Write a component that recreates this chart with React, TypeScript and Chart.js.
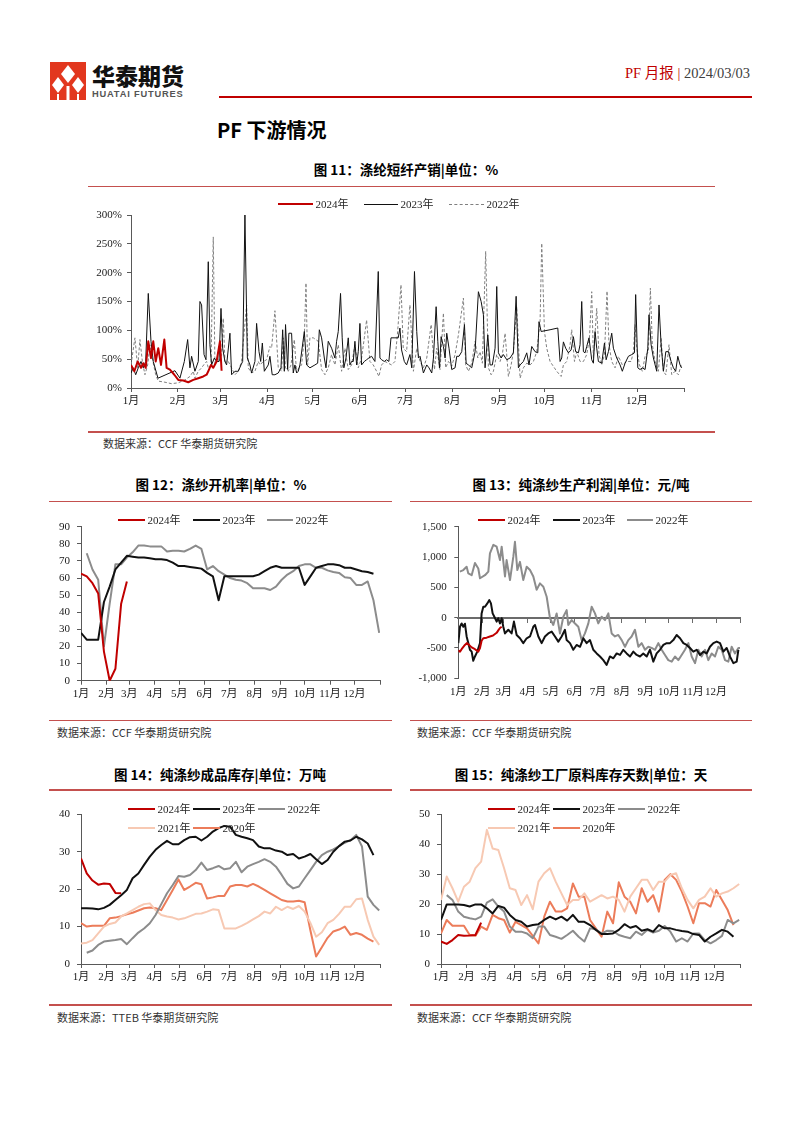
import React, { useEffect, useRef } from 'react';
import { Chart, registerables } from 'chart.js';

Chart.register(...registerables);

const SERIF = '"Liberation Serif", "Times New Roman", "Noto Sans CJK SC", serif';
const CJK = '"Noto Sans CJK SC", "Noto Sans", sans-serif';
const RED = '#C00000';
const BLACK = '#111111';
const GREY = '#8C8C8C';
const GREY_D = '#7F7F7F';
const PINK = '#F7C9B3';
const ORANGE = '#EC7C5A';
const AXIS = '#595959';
const RULE = '#C4504E';

const MONTH_DAYS = [0, 31, 59, 90, 120, 151, 181, 212, 243, 273, 304, 334, 365];
const MONTH_LABELS = ['1月', '2月', '3月', '4月', '5月', '6月', '7月', '8月', '9月', '10月', '11月', '12月', ''];
const SALES_TICKS = [0, 50, 100, 150, 200, 250, 300];

// ---------- 图11 涤纶短纤产销 (day of year, %) ----------
const SALES_2024: [number, number][] = [[0,40],[2.2,29],[4.4,46],[6.6,35],[8.1,43],[9.7,35],[11.4,81],[13.2,52],[14.7,81],[16.3,46],[18,69],[19.8,40],[22,84],[23.5,35],[25.7,32],[28.6,23],[31.2,14],[34.5,13],[37.8,10],[41.1,14],[44.4,17],[47.7,20],[49.9,23],[51,29],[52.8,40],[54.3,35],[56.5,46],[58.7,81],[59.8,30]];

const SALES_2023: [number, number][] = [[0,26],[1.5,35],[3.1,23],[4.8,35],[6.6,46],[8.1,35],[9.7,46],[11.4,164],[13.2,81],[14.7,46],[17.8,17],[29,30],[32.3,17],[35.2,46],[37.4,84],[38.9,35],[40,55],[42.2,29],[44.4,46],[45.5,150],[46.6,144],[48.2,58],[49.5,49],[51,219],[52.1,75],[53.2,40],[55,52],[56.5,46],[58.1,46],[59.4,138],[60.5,69],[62,46],[63.1,40],[65.3,95],[66.4,23],[68.6,29],[70.8,29],[72.6,40],[73.7,46],[75.2,300],[76.8,52],[78.5,40],[79.6,26],[81.8,46],[82.9,112],[84.5,63],[85.6,46],[86.7,78],[88,29],
[90.6,40],[91.7,55],[93.2,23],[95,23],[97.2,26],[99,35],[100.1,101],[101.2,29],[102,110],[103.4,32],[104.2,95],[106,95],[107.1,26],[108.2,40],[109.3,26],[110.4,29],[111.5,40],[114.4,98],[115.9,40],[118.1,35],[121.4,40],[123.2,43],[124.3,101],[125.8,87],[127.6,52],[128.7,35],[130.2,81],[132.4,69],[134.6,52],[135.7,81],[136.8,98],[138.3,164],[139.4,87],[140.5,35],[141.9,52],[143.4,87],[144.5,40],[145.6,46],[146.7,46],[147.8,81],[148.9,40],[150,63],[151.1,112],[152.2,40],[154,46],[155.5,49],[157,52],[158.8,55],[161,46],[163.2,202],[164.3,52],[165.4,49],[167.2,46],[168.7,49],[170.2,46],[171.6,87],[174.2,87],[176.4,87],[177.5,104],[178.6,66],[180.4,46],[181.9,40],[184.1,58],
[185.3,35],[187.1,202],[188.6,98],[189.7,52],[190.8,55],[193,26],[195.2,40],[196.7,35],[198.5,26],[199.6,52],[201.4,141],[202.5,81],[203.6,35],[204.7,89],[206.2,72],[207.3,52],[208.4,95],[209.9,69],[211.7,32],[213.9,35],[215,55],[216.5,55],[218.3,63],[220.1,110],[221.2,43],[222.7,40],[224.9,35],[227.1,63],[229.3,167],[231.1,150],[232.6,127],[233.7,35],[235.5,92],[237,40],[238.5,40],[240.3,69],[241.4,176],[242.5,61],[244.3,52],[245.8,58],[248,49],[250.2,52],[252.4,61],[254.2,159],[255.7,35],[256.8,40],[259,46],[261.2,61],[262.7,40],[264.5,72],[266.7,63],[268.5,61],[269.3,115],[270.7,98],[276.6,101],
[281.7,104],[283.2,46],[284.3,52],[285.4,80],[286.9,69],[288.7,61],[290.5,66],[292,89],[293.5,63],[295.3,61],[296.4,75],[297.5,150],[298.6,63],[299.7,61],[300.8,72],[302.3,87],[304.1,49],[305.2,43],[306.3,98],[307.4,69],[308.5,46],[310.7,43],[312.5,78],[313.6,49],[315.1,63],[317.3,95],[318.4,69],[320.6,52],[322.8,40],[324.3,29],[326.1,43],[328.3,55],[330.5,58],[332.3,61],[333.1,162],[334.5,35],[336,32],[337.5,35],[339.3,32],[341.1,69],[341.9,127],[343.3,75],[344.8,52],[347,29],[348.5,144],[349.9,75],[351.4,29],[353,63],[354.7,63],[356.5,46],[358,35],[359.5,29],[360.9,55],[362.4,40],[363.5,35]];

const SALES_2022: [number, number][] = [[0,40],[2.6,87],[4.4,35],[5.9,84],[7.5,46],[9.2,23],[11,40],[12.5,75],[14.7,43],[16.3,23],[18,12],[22.4,10],[26.8,7.5],[31.2,9],[35.6,14],[38.9,20],[41.1,29],[42.2,17],[44.4,29],[46.6,35],[48.8,43],[49.9,46],[51,35],[52.8,40],[54.3,262],[55.4,40],[56.5,52],[58.1,46],[59.8,58],[60.9,121],[62,46],[64.2,46],[66.4,35],[68.6,23],[70.8,29],[73,46],[76.3,144],[77.4,35],[79.6,26],[81.8,29],[84,46],[85.1,40],[87.3,46],[89.5,49],[91.7,72],
[92.8,69],[95,134],[97.2,35],[99.4,29],[100.5,87],[102,35],[103.8,29],[105.6,40],[107.8,84],[109.3,26],[110.8,35],[112.6,40],[114.4,87],[115.5,182],[116.6,40],[118.1,87],[120.3,87],[123.6,81],[125.8,32],[128,23],[130.2,35],[132.4,58],[134.6,40],[136.8,75],[139,29],[141.2,69],[143.4,32],[145.6,40],[147.8,75],[150,35],[152.2,52],[154,87],[155.5,118],[157.7,46],[159.9,40],[162.1,29],[163.6,20],[165.4,40],[167.6,46],[169.8,43],[172,40],[174.2,46],[176,98],[178.2,179],[179.7,69],[181.9,63],[184.1,144],
[186.4,29],[188.6,69],[190.8,46],[193,35],[195.2,52],[198.1,110],[200.3,32],[201.8,69],[204,32],[206.2,130],[207.7,35],[209.5,46],[211.7,38],[213.9,58],[216.1,92],[219.4,156],[220.9,40],[222.7,29],[224.9,43],[227.1,81],[228.9,52],[230.4,63],[231.9,43],[234.1,237],[235.9,35],[237.7,23],[239.2,29],[241.4,58],[243.6,46],[245.1,58],[246.9,95],[249.1,20],[250.9,40],[252.4,63],[254.6,141],[256.8,17],[259,35],[261.2,43],[263.4,40],[265.6,46],[267.8,63],[270,115],[271.1,251],[272.9,98],[274.4,69],[276.6,46],
[281,29],[283.9,20],[285.4,40],[287.6,46],[289.8,75],[290.9,101],[292.7,46],[294.2,63],[296.4,46],[298.6,46],[300.8,58],[302.6,87],[304.1,167],[305.2,52],[307.4,138],[308.9,58],[310.7,40],[312.5,58],[314.2,168],[315.5,75],[317.3,46],[319.5,35],[321.7,55],[324.3,40],[327.2,46],[330.1,46],[331.6,63],[332.7,110],[333.8,69],[335.6,40],[337.5,29],[339.3,55],[341.5,63],[342.8,173],[344.1,75],[345.9,46],[348.1,29],[349.9,87],[351.4,29],[353,23],[355.1,75],[356.9,23],[359.1,29],[361.3,23],[363.1,40]];

// ---------- 图12 涤纱开机率 (weekly, %) ----------
const OPR_2024 = [62.5, 61, 57, 51, 17, 0, 7, 45, 58];
const OPR_2023 = [28,24,24,24,46,55,65,69,73,72.5,72,72,71.5,71,71,70.5,69,67,67,66.5,66,65.5,63,61,47,61,61,61,61,61,61,62,64,66,67,66,66,66,66,56,61,66,67,68,68,67.5,66,66,65,64,63.5,62.5];
const OPR_2022 = [null,74.5,65,59,20,45,68,68,72,75,79,79,78.5,78.5,78.5,75.5,76,76,75.5,77,79,77,65,67,64,62,60,59,58.5,57,54,54,54,53,55,59,62,64,67,68,68,66,66,64.5,63.5,63,60.5,60,56,56,58,47,28];

// ---------- 图13 纯涤纱生产利润 (day of year, 元/吨) ----------
const PROFIT_2024: [number, number][] = [[0,-540],[2.2,-560],[4.3,-520],[8.6,-450],[11,-420],[13,-440],[17.3,-490],[21.6,-520],[25.9,-560],[28.1,-500],[30.2,-380],[32.4,-340],[36.7,-330],[41,-310],[45,-295],[49.7,-250],[51.8,-210],[54,-170],[56.2,-150]];
const PROFIT_2023: [number, number][] = [[0,-420],[2.2,-150],[4.3,-95],[6.5,-150],[8.6,-100],[10.8,-310],[13,-420],[15.1,-530],[17.3,-560],[19.4,-710],[21.6,-640],[24.6,-560],[28.1,-420],[30.2,70],[32.4,180],[34.6,180],[37.6,235],[40.2,290],[42.3,235],[44.5,70],[46.7,15],[49.7,-65],[51.8,-10],[54,-95],[56.2,-10],[58.3,-150],[60.5,-260],[64.8,-200],[69.1,-260],[72.1,-65],[75.6,-285],[79.9,-340],[84.2,-420],[88.6,-340],[92.9,-310],[97.2,-150],[99.4,-120],[103.7,-310],[108,-420],[112.3,-310],[116.6,-260],[121,-230],[125.3,-310],[129.6,-395],[133.9,-310],[138.2,-200],[140.4,-370],[144.7,-420],[149,-530],[153.3,-450],[157.7,-480],[162,-340],[166.3,-420],[170.6,-370],[174.9,-530],[179.3,-590],[183.6,-640],[187.9,-700],[192.2,-780],[196.5,-640],[200.9,-670],[205.2,-590],[209.5,-615],[213.8,-530],[218.1,-590],[222.5,-640],[226.8,-560],[231.1,-615],[235.4,-640],[239.7,-590],[244.1,-640],[248.4,-530],[252.7,-725],[257,-590],[261.3,-530],[265.7,-450],[270,-420],[274.3,-420],[278.6,-370],[282.9,-285],[287.3,-340],[291.6,-420],[295.9,-450],[300.2,-500],[304.5,-560],[308.9,-530],[313.2,-615],[317.5,-560],[321.8,-590],[326.1,-480],[330.5,-420],[334.8,-395],[339.1,-420],[343.4,-560],[347.7,-500],[352,-640],[356.4,-750],[360.7,-725],[362.9,-530]];
const PROFIT_2022: [number, number][] = [[2,760],[6.5,785],[10.8,840],[13,730],[17.3,700],[21.6,900],[25.9,810],[28.1,650],[34.6,700],[38.9,760],[41,1060],[45.4,1200],[49.7,1170],[54,950],[56.2,1170],[60.5,680],[62.6,950],[67,620],[71.3,1005],[73.4,1250],[76.5,785],[79.9,920],[84.2,620],[88.6,840],[92.9,785],[97.2,680],[101.5,460],[105.8,565],[110.2,510],[114.5,345],[118.8,-10],[123.1,-120],[127.4,70],[131.7,-260],[136.1,15],[140.4,125],[142.5,-120],[146.9,-40],[151.2,-95],[155.5,-150],[159.8,-370],[164.1,-260],[168.5,-95],[172.8,180],[177.1,70],[181.4,-95],[185.7,15],[190.1,-40],[194.4,70],[198.7,-260],[203,-310],[207.3,-285],[211.7,-370],[216,-480],[220.3,-370],[224.6,-310],[228.9,-200],[233.3,-480],[237.6,-420],[241.9,-530],[246.2,-480],[250.5,-500],[254.9,-530],[259.2,-420],[263.5,-530],[267.8,-615],[272.1,-700],[276.5,-725],[280.8,-640],[285.1,-700],[289.4,-615],[293.7,-530],[298.1,-420],[302.4,-640],[306.7,-750],[311,-530],[315.3,-640],[319.7,-530],[324,-700],[328.3,-590],[332.6,-640],[336.9,-480],[341.3,-530],[345.6,-700],[349.9,-725],[354.2,-480],[358.5,-590],[362.9,-500],[365,-500]];

// ---------- 图14 纯涤纱成品库存 (weekly, 万吨) ----------
const INV_2024 = [28.2, 24.2, 22.3, 21.2, 21.5, 21.4, 19, 18.9];
const INV_2023 = [14.9,14.9,14.8,14.6,15,15.8,17.1,18.4,19.8,22.9,24.2,26.5,28.7,30.5,31.8,32.9,32,32,33.1,33.9,34,33,34,35.4,36.3,36.9,36.7,34.5,34,33.6,33.1,31.4,30.9,30.9,30.3,30,29.1,29.4,28.2,28.7,29.4,28,26.7,27.8,30,31.5,32.7,33,34,33.3,32.2,29.1];
const INV_2022 = [null,3,3.6,5.1,6,6.2,6.4,6.7,5.3,6.9,8.4,9.5,10.9,13.1,16,18.9,21.1,23.5,23.3,23.8,25.1,27.1,25.1,25.6,26.2,25.3,25.6,27.3,24.5,26,26.7,27.3,28,27.3,26,23.8,21.4,20.2,20.7,22.9,25.1,27.3,29.1,30,30.6,31.5,32.4,33.1,34.5,31.4,18,15.8,14.3];
const INV_2021 = [5.5,5.7,6.4,8.2,10,10.7,11.1,12.7,13.5,14.4,15.3,16,16.2,14.4,13.1,12.7,12.4,11.9,12.2,12.8,13.4,13.5,14,14.6,14.4,9.5,9.5,9.5,10.2,11,11.9,12.8,14,13.5,15.3,14.4,15.3,14.7,15.5,14,11,7.3,8.5,10.9,11.8,13.4,15.3,15.3,17.3,17.5,11.8,7.3,5.1];
const INV_2020 = [10.9,10,10.2,10.2,10.2,12.2,12.4,12.8,13.3,13.7,14.3,14.9,15.1,14.9,14.4,17.1,19.8,22.6,19.8,20.7,21.7,21.3,17.5,17.8,18.2,18.2,20.7,21.1,21.1,20.7,21.4,20.7,19.8,18.9,18,17.1,16.7,16.7,16.9,16.5,9,2,4.5,7,8.7,9.2,10,7.8,8.3,7.8,6.8,6];

// ---------- 图15 纯涤纱工厂原料库存天数 (weekly, 天) ----------
const STOCK_2024 = [7.5, 6.7, 8, 9.7, 9.4, 9.5, 9.7, 13.8];
const STOCK_2023 = [14.7,19.9,19.9,19.9,19.7,19.2,19.9,19.9,18.6,16.9,19.4,18.8,16.4,14.7,14.1,12.5,13,13.3,14.7,15.8,14.9,15.8,14.5,16.4,14.1,14.1,13,11.4,10,10,10.2,11.4,13.3,12.1,12.7,11.1,11.6,10.8,13,11.9,11.9,11.4,11,10.8,10,9.7,7.5,9.1,10.2,11.4,10.8,9.1];
const STOCK_2022 = [null,23,21.4,17.5,15.8,15.3,14.9,15.8,20.5,21.6,19.2,17.5,12.5,10.8,10.8,10.2,8.6,12.5,12.5,9.7,9.1,8.4,9.7,11.1,9.1,7.5,11.9,11.6,10.2,11.1,11,9.7,9.1,8.6,10.8,9.7,11.4,10.5,11.1,12.7,10.8,7.5,8.6,7.5,10.2,10.2,8,6.9,8,9.4,14.7,13.6,14.7];
const STOCK_2021 = [21.4,29.2,25.3,20.8,25.8,27.5,32,34.2,44.8,38.6,38.1,32,25.3,24.7,19.7,23,18.3,27.5,30.3,32,27.5,23.6,19.7,21.4,21.4,23.6,20.8,21.9,23,21.9,22.5,21.4,17.5,22.5,25.3,28.1,28.1,24.7,27.5,27.5,29.7,30.3,25.3,21.4,18.6,21.4,22.5,25.3,22.5,23.6,24.2,25.3,26.7];
const STOCK_2020 = [10.2,14.7,12.8,12.8,12.8,9.7,9.4,12.5,11.4,16.4,15.3,14.7,10.5,14.1,13,11.9,9.4,6.9,15.8,20.8,17.5,17.5,18.6,26.9,22.5,22.5,14.7,11.9,9.1,17.5,13.6,27.3,22.5,20.8,16.9,25.3,20.8,23,17.5,28.1,30,28.1,24.2,19.2,13.6,20.3,20.3,19.2,24.7,21.4,18,13];

const WEEK = 7;
const pairs = (arr: [number, number][]) => arr.map(([x, y]) => ({ x, y }));
const weekly = (arr: (number | null)[]) => arr.map((y, i) => ({ x: i * WEEK, y }));

const line = (label: string, data: any[], color: string, width: number, dash: number[] = []) => ({
  label, data, borderColor: color, backgroundColor: color, borderWidth: width, borderDash: dash,
  pointRadius: 0, pointHoverRadius: 0, fill: false, tension: 0, borderJoinStyle: 'round', spanGaps: false,
});

const monthTicks = (ax: any) => { ax.ticks = MONTH_DAYS.map((v) => ({ value: v })); };

function makeOptions(o: any) {
  const tickFont = { family: SERIF, size: 11 };
  const yTicks: any = { padding: o.yPad, color: '#1a1a1a', font: tickFont };
  if (o.yFmt) yTicks.callback = o.yFmt;
  const scales: any = {
    x: {
      type: 'linear', min: 0, max: 365,
      afterBuildTicks: monthTicks,
      afterFit: (ax: any) => { ax.height = o.xHeight; ax.paddingLeft = 0; ax.paddingRight = 0; },
      ticks: {
        autoSkip: false, maxRotation: 0, minRotation: 0, padding: o.zeroAxis ? 7 : 3,
        color: '#1a1a1a', font: tickFont, callback: (_v: any, i: number) => MONTH_LABELS[i] ?? '',
      },
      grid: o.zeroAxis ? { display: false, drawTicks: false } : { drawOnChartArea: false, drawTicks: true, tickLength: 4, color: AXIS, lineWidth: 1 },
      border: o.zeroAxis ? { display: false } : { display: true, color: AXIS, width: 1 },
    },
    y: {
      type: 'linear', min: o.yMin, max: o.yMax,
      afterBuildTicks: (ax: any) => { ax.ticks = o.yTicks.map((v: number) => ({ value: v })); },
      afterFit: (ax: any) => { ax.width = o.yWidth; ax.paddingTop = 0; ax.paddingBottom = 0; },
      ticks: yTicks,
      grid: { drawOnChartArea: false, drawTicks: true, tickLength: 4, color: AXIS, lineWidth: 1 },
      border: { display: true, color: AXIS, width: 1 },
    },
  };
  if (o.zeroAxis) {
    scales.x2 = {
      type: 'linear', axis: 'x', position: { y: 0 }, min: 0, max: 365,
      afterBuildTicks: monthTicks,
      afterFit: (ax: any) => { ax.paddingLeft = 0; ax.paddingRight = 0; },
      ticks: { display: false },
      grid: { drawOnChartArea: false, drawTicks: true, tickLength: 4, color: '#6b6b6b', lineWidth: 1 },
      border: { display: true, color: '#6b6b6b', width: 2 },
    };
  }
  return {
    animation: false, responsive: true, maintainAspectRatio: false,
    layout: { padding: { top: o.padTop, right: o.padRight, left: 0, bottom: 0 } },
    plugins: { legend: { display: false }, tooltip: { enabled: false }, title: { display: false } },
    events: [],
    scales,
  };
}

const range = (a: number, b: number, s: number) => { const r: number[] = []; for (let v = a; v <= b + 1e-9; v += s) r.push(v); return r; };

function ChartBox({ box, config }: { box: any; config: () => any }) {
  const ref = useRef<HTMLCanvasElement | null>(null);
  useEffect(() => {
    const chart = new Chart(ref.current as HTMLCanvasElement, config());
    return () => chart.destroy();
  }, []);
  return (
    <div style={{ position: 'absolute', left: box.left, top: box.top, width: box.width, height: box.height }}>
      <canvas ref={ref} />
    </div>
  );
}

type LegendItem = { x: number; y: number; w: number; label: string; color: string; lw: number; dash?: boolean };
function Legend({ items }: { items: LegendItem[] }) {
  return (
    <>
      {items.map((it, i) => (
        <React.Fragment key={i}>
          <div style={{ position: 'absolute', left: it.x, top: it.y - it.lw / 2, width: it.w, height: 0, borderTop: `${it.lw}px ${it.dash ? 'dashed' : 'solid'} ${it.color}` }} />
          <div style={{ position: 'absolute', left: it.x + it.w + 2.5, top: it.y - 7, fontFamily: SERIF, fontSize: 11, lineHeight: '14px', color: '#262626', whiteSpace: 'nowrap' }}>{it.label}</div>
        </React.Fragment>
      ))}
    </>
  );
}

function Title({ cx, y, text }: { cx: number; y: number; text: string }) {
  return (
    <div style={{ position: 'absolute', left: cx - 200, top: y - 10, width: 400, textAlign: 'center', fontFamily: CJK, fontWeight: 700, fontSize: 13.5, lineHeight: '20px', color: '#000', whiteSpace: 'nowrap' }}>{text}</div>
  );
}

function Rule({ x1, x2, y }: { x1: number; x2: number; y: number }) {
  return <div style={{ position: 'absolute', left: x1, top: y - 0.75, width: x2 - x1, height: 1.5, background: RULE }} />;
}

function Source({ x, y, text }: { x: number; y: number; text: string }) {
  return <div style={{ position: 'absolute', left: x, top: y - 7, fontFamily: CJK, fontSize: 11, lineHeight: '14px', color: '#333', whiteSpace: 'nowrap' }}>{text}</div>;
}

function Logo() {
  return (
    <>
      <svg style={{ position: 'absolute', left: 50, top: 62 }} width="36" height="38" viewBox="0 0 36 38">
        <rect x="0" y="0" width="36" height="38" fill="#E2371E" />
        <polygon points="18,3 25,12 18,21 11,12" fill="#fff" />
        <polygon points="8,15 14,23 8,31 2,23" fill="#fff" />
        <polygon points="28,15 34,23 28,31 22,23" fill="#fff" />
        <rect x="16.5" y="24" width="3" height="14" fill="#fff" />
        <rect x="7" y="32" width="2" height="6" fill="#fff" />
        <rect x="27" y="32" width="2" height="6" fill="#fff" />
      </svg>
      <div style={{ position: 'absolute', left: 92, top: 61, fontFamily: CJK, fontWeight: 900, fontSize: 23, lineHeight: '28px', color: '#111', whiteSpace: 'nowrap' }}>华泰期货</div>
      <div style={{ position: 'absolute', left: 92, top: 89, fontFamily: '"Liberation Sans", Arial, sans-serif', fontWeight: 700, fontSize: 9.3, lineHeight: '11px', color: '#555', letterSpacing: 0.8, whiteSpace: 'nowrap' }}>HUATAI FUTURES</div>
    </>
  );
}

export default function App() {
  const c11 = () => ({
    type: 'line',
    data: { datasets: [
      line('2024年', pairs(SALES_2024), RED, 2),
      line('2023年', pairs(SALES_2023), BLACK, 1),
      line('2022年', pairs(SALES_2022), GREY_D, 1, [3, 2]),
    ] },
    options: makeOptions({ yMin: 0, yMax: 300, yTicks: SALES_TICKS, yFmt: (v: number) => v + '%', yWidth: 43, xHeight: 30, padTop: 7, padRight: 31, yPad: 5 }),
  });
  const c12 = () => ({
    type: 'line',
    data: { datasets: [
      line('2024年', weekly(OPR_2024), RED, 2),
      line('2023年', weekly(OPR_2023), BLACK, 2),
      line('2022年', weekly(OPR_2022), GREY, 2),
    ] },
    options: makeOptions({ yMin: 0, yMax: 90, yTicks: range(0, 90, 10), yWidth: 41, xHeight: 29.3, padTop: 11.7, padRight: 12, yPad: 7 }),
  });
  const c13 = () => ({
    type: 'line',
    data: { datasets: [
      line('2024年', pairs(PROFIT_2024), RED, 2),
      line('2023年', pairs(PROFIT_2023), BLACK, 2),
      line('2022年', pairs(PROFIT_2022), GREY, 2),
    ] },
    options: makeOptions({ yMin: -1000, yMax: 1500, yTicks: range(-1000, 1500, 500), yWidth: 58.3, xHeight: 31.7, padTop: 11.7, padRight: 12, yPad: 7.5, zeroAxis: true }),
  });
  const c14 = () => ({
    type: 'line',
    data: { datasets: [
      line('2024年', weekly(INV_2024), RED, 2),
      line('2023年', weekly(INV_2023), BLACK, 2),
      line('2022年', weekly(INV_2022), GREY, 2),
      line('2021年', weekly(INV_2021), PINK, 2),
      line('2020年', weekly(INV_2020), ORANGE, 2),
    ] },
    options: makeOptions({ yMin: 0, yMax: 40, yTicks: range(0, 40, 10), yWidth: 41, xHeight: 31, padTop: 9.3, padRight: 12, yPad: 7 }),
  });
  const c15 = () => ({
    type: 'line',
    data: { datasets: [
      line('2024年', weekly(STOCK_2024), RED, 2),
      line('2023年', weekly(STOCK_2023), BLACK, 2),
      line('2022年', weekly(STOCK_2022), GREY, 2),
      line('2021年', weekly(STOCK_2021), PINK, 2),
      line('2020年', weekly(STOCK_2020), ORANGE, 2),
    ] },
    options: makeOptions({ yMin: 0, yMax: 50, yTicks: range(0, 50, 10), yWidth: 41, xHeight: 31, padTop: 9.3, padRight: 12, yPad: 7 }),
  });

  return (
    <div style={{ position: 'absolute', left: 0, top: 0, width: 802, height: 1133, background: '#fff', overflow: 'hidden' }}>
      <Logo />
      <div style={{ position: 'absolute', right: 52, top: 63, fontFamily: SERIF, fontSize: 14.5, lineHeight: '20px', whiteSpace: 'nowrap' }}>
        <span style={{ color: RED }}>PF 月报</span>
        <span style={{ color: RED }}> | </span>
        <span style={{ color: '#404040' }}>2024/03/03</span>
      </div>
      <div style={{ position: 'absolute', left: 219, top: 95.5, width: 533, height: 2, background: RED }} />
      <div style={{ position: 'absolute', left: 217, top: 116, fontFamily: CJK, fontWeight: 700, fontSize: 20, lineHeight: '28px', color: '#000', whiteSpace: 'nowrap' }}>PF 下游情况</div>

      {/* 图11 */}
      <Title cx={406} y={169} text="图 11：涤纶短纤产销|单位：%" />
      <Rule x1={88} x2={715} y={186.7} />
      <ChartBox box={{ left: 88, top: 208, width: 627, height: 210 }} config={c11} />
      <Legend items={[
        { x: 278, y: 204, w: 35, label: '2024年', color: RED, lw: 2 },
        { x: 364, y: 204, w: 34, label: '2023年', color: BLACK, lw: 1 },
        { x: 449, y: 204, w: 35, label: '2022年', color: GREY_D, lw: 1, dash: true },
      ]} />
      <Rule x1={88} x2={715} y={432} />
      <Source x={103} y={443} text="数据来源：CCF 华泰期货研究院" />

      {/* 图12 */}
      <Title cx={221} y={484} text="图 12：涤纱开机率|单位：%" />
      <Rule x1={49} x2={392} y={501.7} />
      <ChartBox box={{ left: 40, top: 515, width: 352, height: 195 }} config={c12} />
      <Legend items={[
        { x: 118, y: 520, w: 27, label: '2024年', color: RED, lw: 2.5 },
        { x: 193, y: 520, w: 27, label: '2023年', color: BLACK, lw: 2.5 },
        { x: 267, y: 520, w: 26, label: '2022年', color: GREY, lw: 2.5 },
      ]} />
      <Rule x1={49} x2={392} y={720.7} />
      <Source x={57} y={731.7} text="数据来源：CCF 华泰期货研究院" />

      {/* 图13 */}
      <Title cx={581} y={484} text="图 13：纯涤纱生产利润|单位：元/吨" />
      <Rule x1={410} x2={752} y={501.7} />
      <ChartBox box={{ left: 400, top: 515, width: 352, height: 195 }} config={c13} />
      <Legend items={[
        { x: 478, y: 520, w: 27, label: '2024年', color: RED, lw: 2.5 },
        { x: 553, y: 520, w: 27, label: '2023年', color: BLACK, lw: 2.5 },
        { x: 627, y: 520, w: 26, label: '2022年', color: GREY, lw: 2.5 },
      ]} />
      <Rule x1={410} x2={752} y={720.7} />
      <Source x={417} y={731.7} text="数据来源：CCF 华泰期货研究院" />

      {/* 图14 */}
      <Title cx={220} y={774} text="图 14：纯涤纱成品库存|单位：万吨" />
      <Rule x1={49} x2={392} y={790} />
      <ChartBox box={{ left: 40, top: 805, width: 352, height: 190 }} config={c14} />
      <Legend items={[
        { x: 128, y: 809, w: 27, label: '2024年', color: RED, lw: 2.5 },
        { x: 193, y: 809, w: 27, label: '2023年', color: BLACK, lw: 2.5 },
        { x: 258, y: 809, w: 27, label: '2022年', color: GREY, lw: 2.5 },
        { x: 128, y: 828, w: 27, label: '2021年', color: PINK, lw: 2.5 },
        { x: 193, y: 828, w: 27, label: '2020年', color: ORANGE, lw: 2.5 },
      ]} />
      <Rule x1={49} x2={392} y={1005} />
      <Source x={57} y={1016.7} text="数据来源：TTEB 华泰期货研究院" />

      {/* 图15 */}
      <Title cx={581} y={774} text="图 15：纯涤纱工厂原料库存天数|单位：天" />
      <Rule x1={410} x2={752} y={790} />
      <ChartBox box={{ left: 400, top: 805, width: 352, height: 190 }} config={c15} />
      <Legend items={[
        { x: 488, y: 809, w: 27, label: '2024年', color: RED, lw: 2.5 },
        { x: 553, y: 809, w: 27, label: '2023年', color: BLACK, lw: 2.5 },
        { x: 618, y: 809, w: 27, label: '2022年', color: GREY, lw: 2.5 },
        { x: 488, y: 828, w: 27, label: '2021年', color: PINK, lw: 2.5 },
        { x: 553, y: 828, w: 27, label: '2020年', color: ORANGE, lw: 2.5 },
      ]} />
      <Rule x1={410} x2={752} y={1005} />
      <Source x={417} y={1016.7} text="数据来源：CCF 华泰期货研究院" />
    </div>
  );
}
